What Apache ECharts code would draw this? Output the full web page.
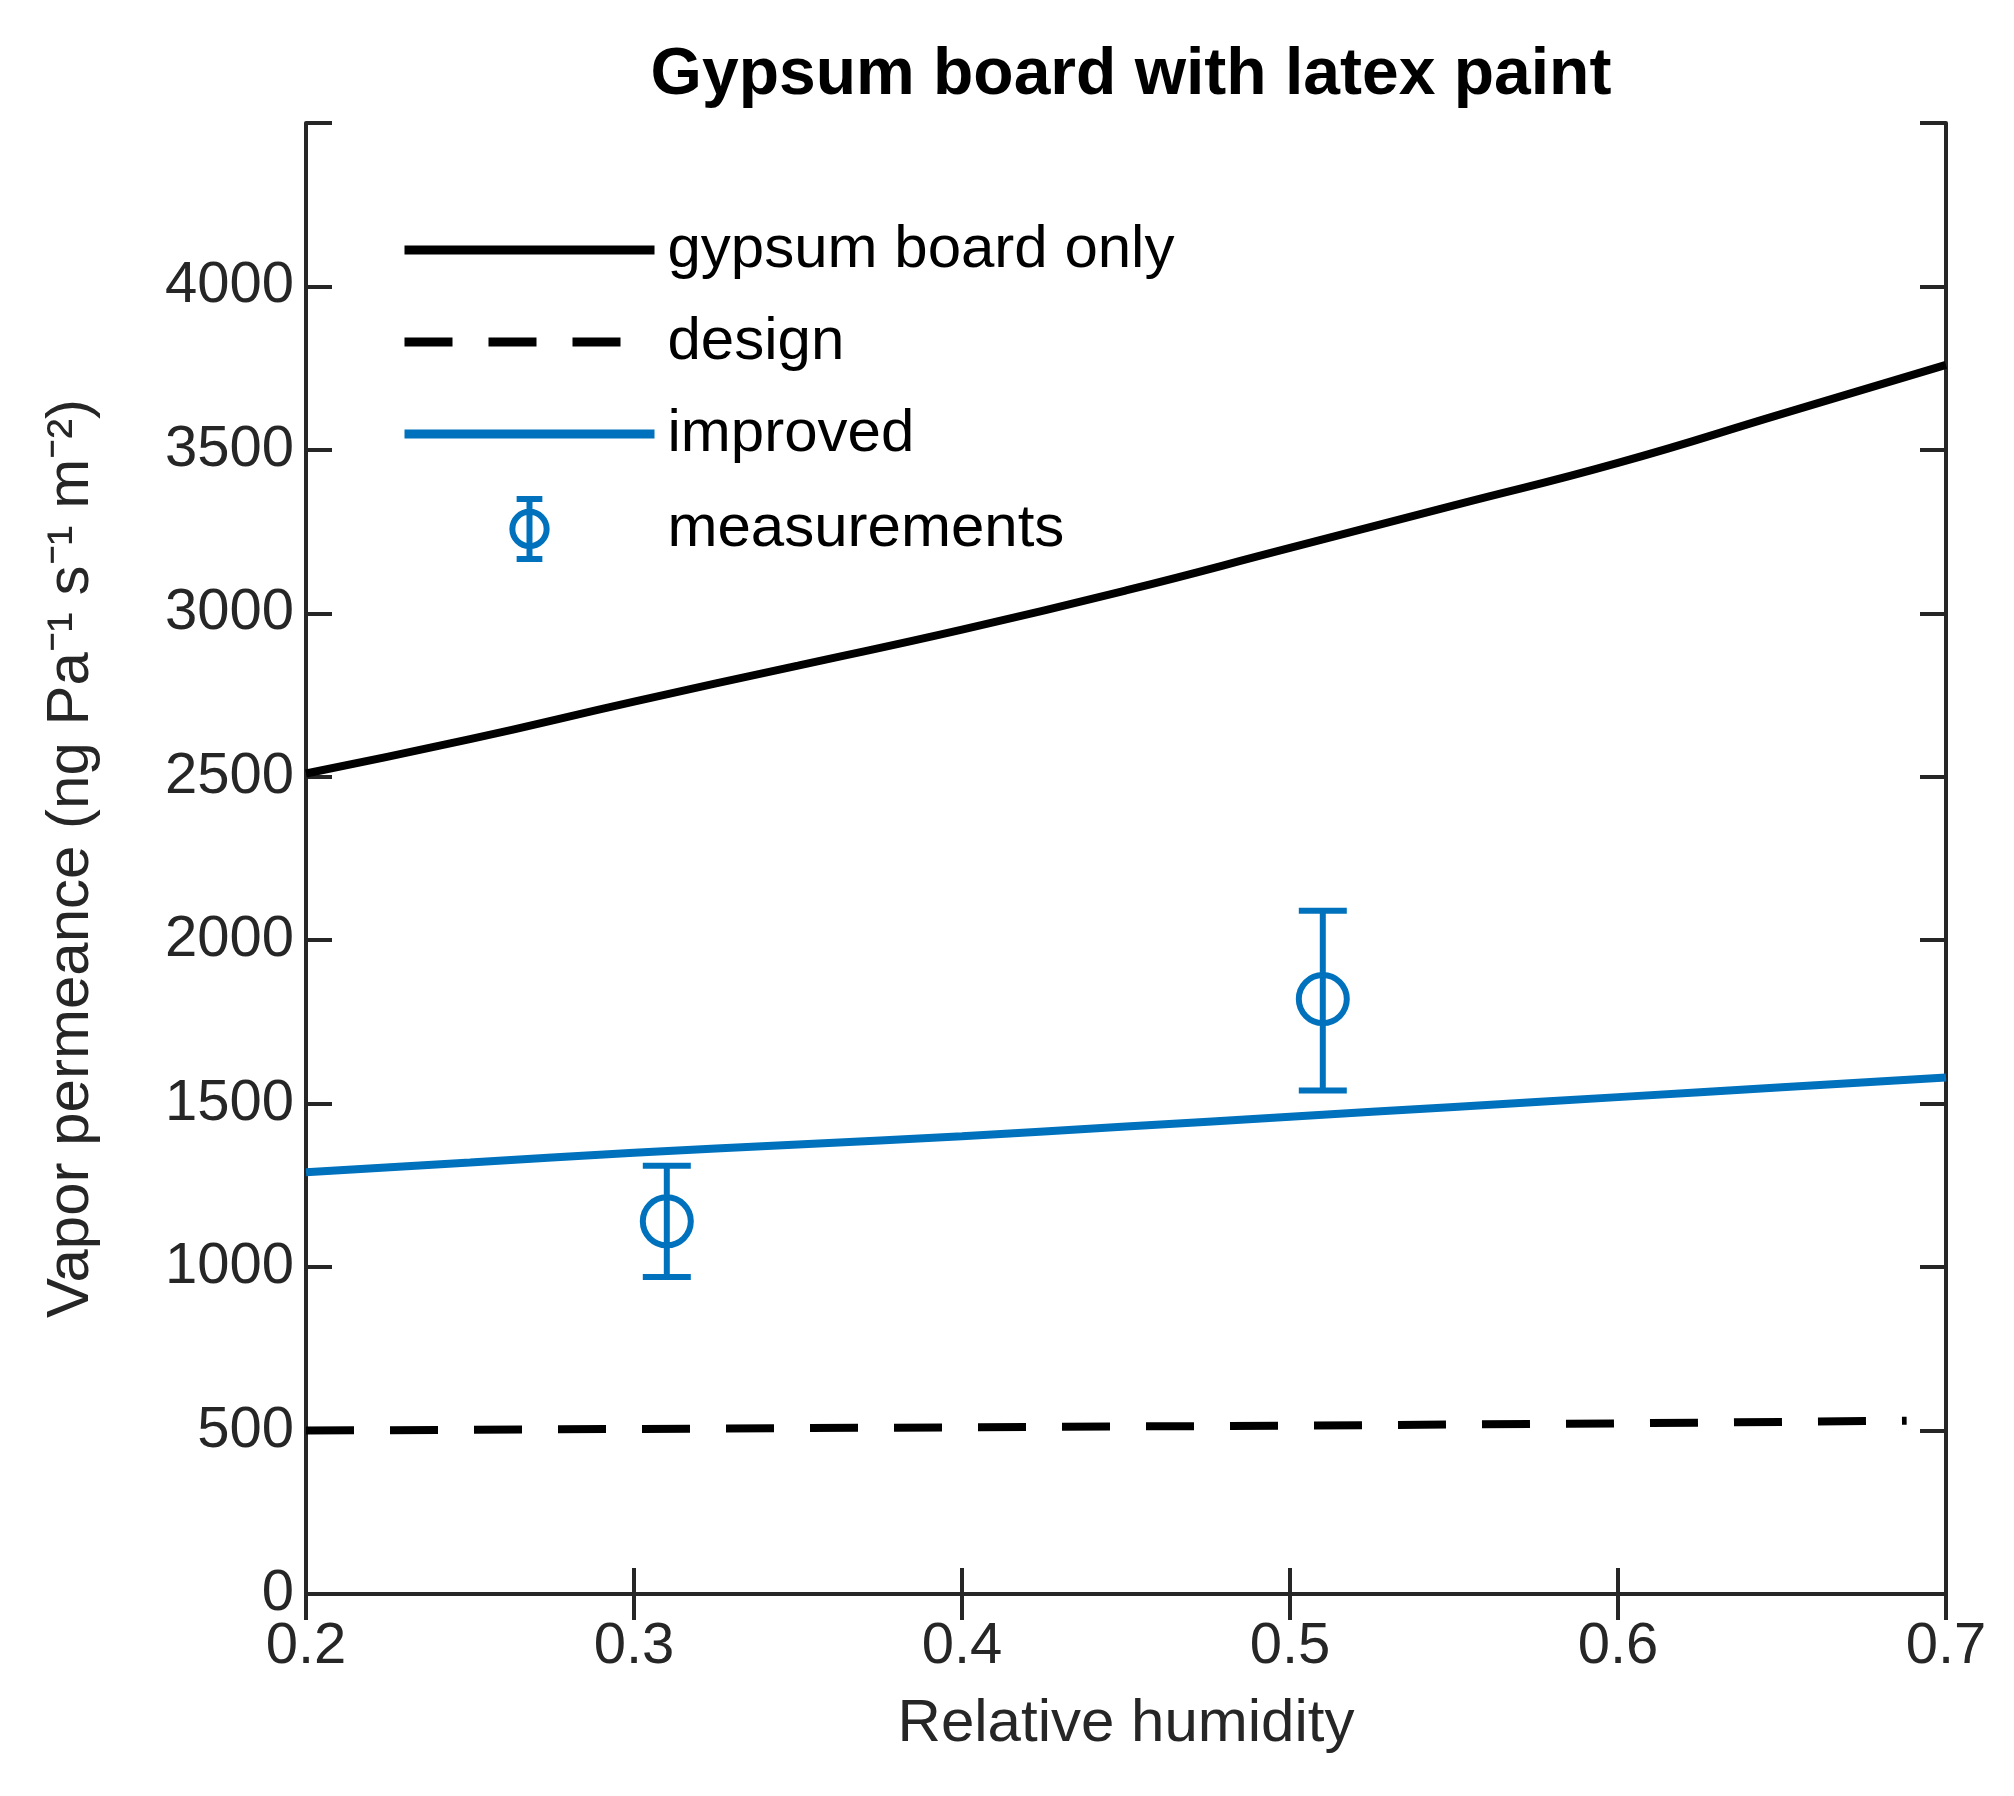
<!DOCTYPE html>
<html>
<head>
<meta charset="utf-8">
<script src="https://cdn.jsdelivr.net/npm/echarts@6/dist/echarts.min.js"></script>
<style>
  html, body { margin: 0; padding: 0; background: #fff; }
  #chart { width: 2014px; height: 1796px; }
</style>
</head>
<body>
<div id="chart"></div>
<script>
// 数据
var rhGrid = [0.2, 0.25, 0.3, 0.35, 0.4, 0.45, 0.5, 0.55, 0.6, 0.65, 0.7];
var gypsumOnly = [2510, 2615, 2730, 2840, 2950, 3070, 3200, 3330, 3460, 3610, 3760];
var improved = [1290, 1320, 1350, 1375, 1400, 1430, 1460, 1490, 1520, 1550, 1580];
var designRh = [0.2, 0.3, 0.4, 0.5, 0.6, 0.688];
var design = [500, 505, 510, 515, 522, 530];
var measRh = [0.31, 0.51];
var measMean = [1140, 1820];
var measLow = [970, 1540];
var measHigh = [1310, 2090];

var BLUE = "#0072bd";
var FONT = "Liberation Sans, Arial, sans-serif";

function pairs(xs, ys) {
  return xs.map(function (x, i) { return [x, ys[i]]; });
}

var chart = echarts.init(document.getElementById("chart"));
var axisLine = { show: true, lineStyle: { color: "#262626", width: 4 } };
var tick = { show: true, inside: true, length: 26, lineStyle: { color: "#262626", width: 4 } };
var noSym = { opacity: 0 };

chart.setOption({
  animation: false,
  title: {
    text: "Gypsum board with latex paint",
    left: 1126, top: 38, textAlign: "center",
    textStyle: { fontFamily: FONT, fontWeight: "bold", fontSize: 66, color: "#000" }
  },
  grid: { left: 306, right: 68, top: 123, bottom: 202 },
  legend: {
    orient: "vertical", left: 395, top: 215,
    itemWidth: 250, itemHeight: 60, itemGap: 32,
    textStyle: { fontFamily: FONT, fontSize: 60, color: "#000", padding: [0, 0, 0, 8] },
    data: [
      { name: "gypsum board only", itemStyle: noSym, lineStyle: { width: 9, color: "#000" } },
      { name: "design", itemStyle: noSym, lineStyle: { width: 9, color: "#000", type: [48, 36] } },
      { name: "improved", itemStyle: noSym, lineStyle: { width: 9, color: BLUE } },
      { name: "measurements",
        icon: "path://M0,0H30M15,0V70M0,70H30M15,15A20,20 0 1,0 15.01,15Z",
        itemStyle: { color: "rgba(0,0,0,0)", borderColor: BLUE, borderWidth: 6, opacity: 1 } }
    ]
  },
  xAxis: [
    {
      type: "value", min: 0.2, max: 0.7, interval: 0.1,
      name: "Relative humidity", nameLocation: "middle", nameGap: 100,
      nameTextStyle: { fontFamily: FONT, fontSize: 60, color: "#262626" },
      axisLine: axisLine, axisTick: tick, splitLine: { show: false },
      axisLabel: { fontFamily: FONT, fontSize: 58, color: "#262626", margin: 24,
        formatter: function (v) { return v.toFixed(1); } }
    },
    {
      type: "value", position: "top", min: 0.2, max: 0.7, interval: 0.1,
      axisLine: axisLine, axisTick: tick, axisLabel: { show: false }, splitLine: { show: false }
    }
  ],
  yAxis: [
    {
      type: "value", min: 0, max: 4500, interval: 500,
      name: "Vapor permeance (ng Pa\u207B\u00B9 s\u207B\u00B9 m\u207B\u00B2)",
      nameLocation: "middle", nameGap: 205, nameRotate: 90,
      nameTextStyle: { fontFamily: FONT, fontSize: 60, color: "#262626" },
      axisLine: axisLine, axisTick: tick, splitLine: { show: false },
      axisLabel: { fontFamily: FONT, fontSize: 58, color: "#262626", margin: 12,
        formatter: function (v) { return v > 4000 ? "" : String(v); } }
    },
    {
      type: "value", position: "right", min: 0, max: 4500, interval: 500,
      axisLine: axisLine, axisTick: tick, axisLabel: { show: false }, splitLine: { show: false }
    }
  ],
  series: [
    {
      name: "gypsum board only", type: "line", smooth: true, symbol: "none",
      data: pairs(rhGrid, gypsumOnly),
      lineStyle: { color: "#000", width: 8 }, itemStyle: { color: "#000" }
    },
    {
      name: "design", type: "line", symbol: "none",
      data: pairs(designRh, design),
      lineStyle: { color: "#000", width: 8, type: [48, 36] }, itemStyle: { color: "#000" }
    },
    {
      name: "improved", type: "line", smooth: true, symbol: "none",
      data: pairs(rhGrid, improved),
      lineStyle: { color: BLUE, width: 8 }, itemStyle: { color: BLUE }
    },
    {
      name: "measurements", type: "custom",
      data: measRh.map(function (x, i) { return [x, measLow[i], measHigh[i]]; }),
      itemStyle: { color: BLUE },
      renderItem: function (params, api) {
        var lo = api.coord([api.value(0), api.value(1)]);
        var hi = api.coord([api.value(0), api.value(2)]);
        var w = 24;
        var st = { stroke: BLUE, lineWidth: 6 };
        return {
          type: "group",
          children: [
            { type: "line", shape: { x1: lo[0], y1: lo[1], x2: hi[0], y2: hi[1] }, style: st },
            { type: "line", shape: { x1: lo[0] - w, y1: lo[1], x2: lo[0] + w, y2: lo[1] }, style: st },
            { type: "line", shape: { x1: hi[0] - w, y1: hi[1], x2: hi[0] + w, y2: hi[1] }, style: st }
          ]
        };
      }
    },
    {
      name: "measurements", type: "scatter", symbol: "circle", symbolSize: 48,
      data: pairs(measRh, measMean),
      itemStyle: { color: "rgba(0,0,0,0)", borderColor: BLUE, borderWidth: 6, opacity: 1 }, z: 5
    }
  ]
});
</script>
</body>
</html>
